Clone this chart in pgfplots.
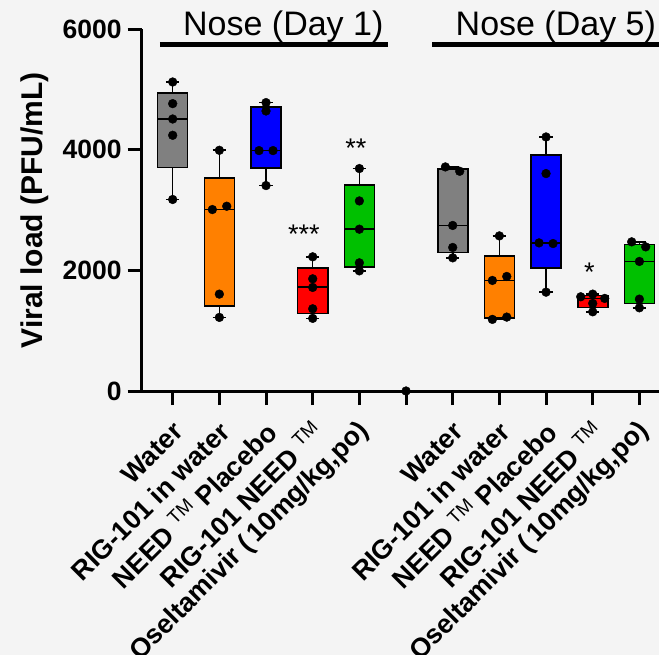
\documentclass[border=0pt]{standalone}
\usepackage{fontspec}
\setmainfont{Liberation Sans}
\usepackage{pgfplots}
\pgfplotsset{compat=1.18}
\definecolor{bg}{HTML}{F4F4F4}
\definecolor{cgray}{HTML}{808080}
\definecolor{corange}{HTML}{FF8000}
\definecolor{cblue}{HTML}{0000FF}
\definecolor{cred}{HTML}{FF0000}
\definecolor{cgreen}{HTML}{00C000}
\newcommand{\tm}{\textsuperscript{\mdseries TM}}
% #1 position, #2 lower whisker, #3 lower quartile, #4 median, #5 upper quartile, #6 upper whisker, #7 colour
\newcommand{\bxp}[7]{%
  \pgfmathsetmacro\xa{#1-0.3215}\pgfmathsetmacro\xb{#1+0.3215}%
  \pgfmathsetmacro\ca{#1-0.145}\pgfmathsetmacro\cb{#1+0.145}%
  \edef\tmp{%
    \noexpand\addplot[black, line width=1.6pt] coordinates {(#1,#2) (#1,#3)};
    \noexpand\addplot[black, line width=1.6pt] coordinates {(#1,#5) (#1,#6)};
    \noexpand\addplot[black, line width=1.6pt] coordinates {(\ca,#2) (\cb,#2)};
    \noexpand\addplot[black, line width=1.6pt] coordinates {(\ca,#6) (\cb,#6)};
    \noexpand\addplot[fill=#7, draw=black, line width=1.6pt] coordinates {(\xa,#3) (\xb,#3) (\xb,#5) (\xa,#5)} --cycle;
    \noexpand\addplot[black, line width=1.6pt] coordinates {(\xa,#4) (\xb,#4)};
  }\tmp}
\pgfplotsset{
  dots/.style={only marks, mark=*, mark size=4.4pt, black, mark options={solid, fill=black, draw=black}},
}
\begin{document}
\begin{tikzpicture}
\fill[bg] (0pt,0pt) rectangle (659pt,-655pt);
\begin{axis}[
  at={(141.7pt,-391pt)}, anchor=south west,
  scale only axis, width=528.3pt, height=361.7pt,
  xmin=0.336, xmax=11.656, ymin=0, ymax=6000,
  enlargelimits=false, clip=false,
  axis x line=bottom, axis y line=left,
  axis line style={-, line width=3pt},
  tick align=outside, major tick length=14pt,
  every tick/.style={black, line width=3pt},
  ytick={0,2000,4000,6000}, yticklabels={0,2000,4000,6000},
  xtick={1,2,3,4,5,6,7,8,9,10,11},
  xticklabels={Water, RIG-101 in water, NEED \tm{} Placebo, RIG-101 NEED \tm, {Oseltamivir (\,10mg/kg,po)}, {}, Water, RIG-101 in water, NEED \tm{} Placebo, RIG-101 NEED \tm, {Oseltamivir (\,10mg/kg,po)}},
  yticklabel style={font=\bfseries\fontsize{26.5}{30}\selectfont, inner sep=0pt, xshift=-6pt},
  xticklabel style={font=\bfseries\fontsize{26.8}{30}\selectfont, xshift=5.5pt, yshift=-22pt, rotate=45, anchor=east, inner sep=0pt},
  ylabel={Viral load (PFU/mL)},
  ylabel style={font=\bfseries\fontsize{30}{34}\selectfont, at={(axis description cs:-0.202,0.5)}, anchor=center},
]
% Day 1
\bxp{1}{3177}{3710}{4512}{4946}{5126}{cgray}
\bxp{2}{1221}{1414}{3010}{3529}{3993}{corange}
\bxp{3}{3408}{3697}{3988}{4714}{4784}{cblue}
\bxp{4}{1205}{1284}{1728}{2043}{2226}{cred}
\bxp{5}{1993}{2060}{2684}{3421}{3690}{cgreen}
\addplot[black, line width=1.6pt] coordinates {(5.68,0) (6.32,0)};
% Day 5
\bxp{7}{2209}{2295}{2746}{3681}{3717}{cgray}
\bxp{8}{1188}{1207}{1834}{2236}{2573}{corange}
\bxp{9}{1640}{2043}{2457}{3910}{4214}{cblue}
\bxp{10}{1314}{1384}{1536}{1585}{1607}{cred}
\bxp{11}{1380}{1452}{2149}{2433}{2474}{cgreen}
% points
\addplot[dots] coordinates {(1,5126) (1,4767) (1,4512) (1,4242) (1,3177)};
\addplot[dots] coordinates {(2,3993) (2.158,3065) (1.85,3010) (2,1607) (2,1221)};
\addplot[dots] coordinates {(3,4784) (3,4645) (2.85,3988) (3.15,3988) (3,3408)};
\addplot[dots] coordinates {(4,2226) (4,1861) (4,1718) (4,1364) (4,1205)};
\addplot[dots] coordinates {(5,3690) (5,3153) (5,2684) (5,2126) (5,1993)};
\addplot[dots] coordinates {(6,0)};
\addplot[dots] coordinates {(6.843,3717) (7.15,3645) (7,2746) (7,2381) (7,2209)};
\addplot[dots] coordinates {(8,2573) (8.158,1900) (7.85,1834) (8.158,1226) (7.85,1188)};
\addplot[dots] coordinates {(9,4214) (9,3607) (8.85,2457) (9.15,2446) (9,1640)};
\addplot[dots] coordinates {(9.743,1563) (10,1607) (10.257,1536) (10,1453) (10,1314)};
\addplot[dots] coordinates {(10.835,2474) (11.135,2391) (11,2149) (11,1524) (11,1380)};
% significance
\node[anchor=base, font=\fontsize{27}{30}\selectfont] at (axis cs:3.81,2447) {***};
\node[anchor=base, font=\fontsize{27}{30}\selectfont] at (axis cs:4.925,3872) {**};
\node[anchor=base, font=\fontsize{27}{30}\selectfont] at (axis cs:9.93,1810) {*};
% titles
\draw[line width=5pt] (axis cs:0.728,5750) -- (axis cs:5.607,5750);
\draw[line width=5pt] (axis cs:6.563,5750) -- (axis cs:11.8,5750);
\node[anchor=base, font=\fontsize{34}{40}\selectfont] at (axis cs:3.37,5899) {Nose (Day 1)};
\node[anchor=base, font=\fontsize{34}{40}\selectfont] at (axis cs:9.21,5899) {Nose (Day 5)};
\end{axis}
\pgfresetboundingbox
\path[use as bounding box] (0pt,0pt) rectangle (659pt,-655pt);
\end{tikzpicture}
\end{document}
